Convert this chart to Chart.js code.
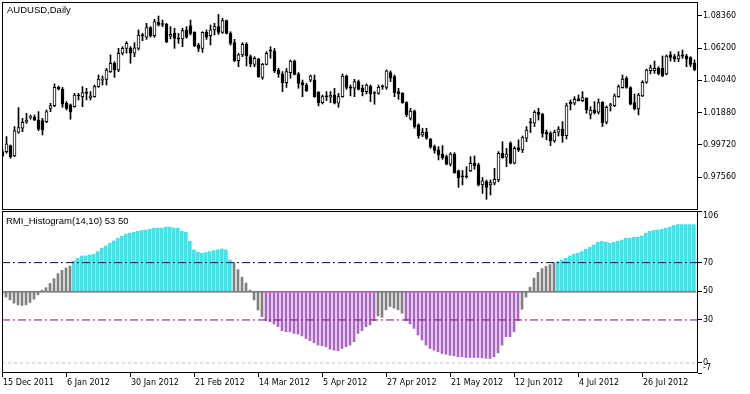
<!DOCTYPE html>
<html><head><meta charset="utf-8">
<script src="https://cdn.jsdelivr.net/npm/chart.js@4"></script>
<style>
html,body{margin:0;padding:0;background:#fff;}
#wrap{position:relative;width:750px;height:394px;overflow:hidden;background:#fff;}
canvas{position:absolute;left:0;}
#c1{top:0;} #c2{top:210px;}
.lbl{position:absolute;font-family:'Liberation Sans',Arial,sans-serif;font-size:9.5px;color:#000;white-space:nowrap;line-height:1;}
</style></head>
<body><div id="wrap">
<canvas id="c1" width="750" height="210"></canvas>
<canvas id="c2" width="750" height="184"></canvas>
<div class="lbl" style="left:7px;top:5px">AUDUSD,Daily</div>
<div class="lbl" style="left:6px;top:216px">RMI_Histogram(14,10) 53 50</div>
</div>
<script>
// ---- data ----
const opens = [
0.9928,0.9928,0.9968,0.9899,1.0057,1.0084,1.0124,1.0157,1.0159,1.0139,
1.0135,1.0128,1.0217,1.0235,1.0357,1.0346,1.0251,1.0240,1.0228,1.0302,
1.0295,1.0326,1.0288,1.0295,1.0362,1.0406,1.0411,1.0462,1.0518,1.0473,
1.0585,1.0618,1.0618,1.0585,1.0618,1.0703,1.0692,1.0756,1.0703,1.0792,
1.0778,1.0778,1.0700,1.0718,1.0681,1.0681,1.0741,1.0769,1.0725,1.0640,
1.0618,1.0725,1.0703,1.0741,1.0763,1.0725,1.0803,1.0718,1.0656,1.0536,
1.0574,1.0645,1.0562,1.0511,1.0545,1.0424,1.0511,1.0600,1.0600,1.0473,
1.0447,1.0389,1.0456,1.0533,1.0447,1.0389,1.0373,1.0406,1.0406,1.0324,
1.0255,1.0295,1.0291,1.0306,1.0251,1.0295,1.0433,1.0357,1.0351,1.0395,
1.0351,1.0329,1.0366,1.0317,1.0317,1.0362,1.0357,1.0456,1.0429,1.0329,
1.0317,1.0255,1.0150,1.0199,1.0106,1.0039,1.0057,1.0010,0.9961,0.9939,
0.9912,0.9894,0.9843,0.9912,0.9799,0.9761,0.9761,0.9799,0.9850,0.9839,
0.9705,0.9727,0.9705,0.9716,0.9738,0.9917,0.9890,0.9983,0.9850,0.9955,
0.9939,1.0017,1.0121,1.0117,1.0191,1.0177,1.0057,1.0050,0.9999,1.0057,
1.0079,1.0035,1.0257,1.0251,1.0280,1.0268,1.0284,1.0177,1.0206,1.0191,
1.0257,1.0124,1.0235,1.0235,1.0295,1.0355,1.0418,1.0355,1.0255,1.0213,
1.0300,1.0391,1.0469,1.0469,1.0484,1.0484,1.0447,1.0574,1.0562,1.0547,
1.0567,1.0567,1.0556,1.0518];
const highs = [
0.9939,1.0028,0.9972,1.0095,1.0222,1.0150,1.0184,1.0173,1.0173,1.0195,
1.0150,1.0206,1.0251,1.0380,1.0366,1.0357,1.0262,1.0246,1.0317,1.0317,
1.0362,1.0351,1.0329,1.0373,1.0440,1.0433,1.0484,1.0574,1.0529,1.0618,
1.0629,1.0663,1.0629,1.0656,1.0741,1.0718,1.0785,1.0763,1.0812,1.0834,
1.0807,1.0785,1.0763,1.0752,1.0718,1.0752,1.0763,1.0807,1.0729,1.0651,
1.0729,1.0741,1.0774,1.0785,1.0845,1.0818,1.0807,1.0729,1.0678,1.0585,
1.0656,1.0656,1.0574,1.0562,1.0551,1.0518,1.0596,1.0629,1.0618,1.0484,
1.0462,1.0484,1.0540,1.0540,1.0456,1.0406,1.0384,1.0440,1.0440,1.0329,
1.0306,1.0329,1.0329,1.0351,1.0317,1.0447,1.0440,1.0373,1.0411,1.0406,
1.0373,1.0380,1.0373,1.0329,1.0373,1.0373,1.0473,1.0467,1.0440,1.0351,
1.0322,1.0262,1.0217,1.0206,1.0113,1.0084,1.0084,1.0017,0.9972,0.9961,
0.9968,0.9905,0.9921,0.9921,0.9805,0.9801,0.9827,0.9894,0.9899,0.9850,
0.9754,0.9738,0.9738,0.9816,0.9928,0.9994,0.9950,0.9994,0.9961,1.0006,
1.0032,1.0095,1.0150,1.0202,1.0217,1.0184,1.0072,1.0061,1.0072,1.0095,
1.0128,1.0251,1.0273,1.0295,1.0306,1.0329,1.0288,1.0228,1.0262,1.0280,
1.0262,1.0233,1.0251,1.0313,1.0373,1.0440,1.0429,1.0362,1.0313,1.0317,
1.0402,1.0480,1.0507,1.0533,1.0495,1.0567,1.0574,1.0596,1.0578,1.0596,
1.0607,1.0578,1.0562,1.0540];
const lows = [
0.9894,0.9917,0.9883,0.9894,1.0050,1.0061,1.0117,1.0144,1.0135,1.0068,
1.0039,1.0121,1.0195,1.0228,1.0340,1.0224,1.0206,1.0144,1.0224,1.0273,
1.0228,1.0273,1.0273,1.0291,1.0357,1.0373,1.0373,1.0456,1.0424,1.0462,
1.0574,1.0585,1.0518,1.0562,1.0607,1.0669,1.0678,1.0692,1.0692,1.0767,
1.0763,1.0656,1.0681,1.0618,1.0651,1.0629,1.0685,1.0707,1.0629,1.0596,
1.0591,1.0678,1.0640,1.0707,1.0711,1.0718,1.0714,1.0640,1.0529,1.0495,
1.0562,1.0500,1.0495,1.0495,1.0424,1.0411,1.0507,1.0551,1.0456,1.0424,
1.0329,1.0357,1.0418,1.0440,1.0351,1.0295,1.0329,1.0395,1.0291,1.0233,
1.0246,1.0268,1.0255,1.0246,1.0224,1.0291,1.0344,1.0300,1.0295,1.0340,
1.0300,1.0313,1.0262,1.0244,1.0311,1.0344,1.0344,1.0395,1.0295,1.0277,
1.0251,1.0162,1.0139,1.0084,1.0017,1.0028,1.0010,0.9950,0.9917,0.9872,
0.9876,0.9839,0.9832,0.9783,0.9689,0.9705,0.9750,0.9794,0.9810,0.9698,
0.9649,0.9609,0.9638,0.9705,0.9727,0.9883,0.9827,0.9845,0.9845,0.9928,
0.9921,0.9994,1.0055,1.0095,1.0139,1.0024,1.0006,0.9968,0.9990,1.0032,
0.9990,1.0012,1.0206,1.0240,1.0266,1.0262,1.0184,1.0146,1.0179,1.0179,
1.0095,1.0113,1.0199,1.0228,1.0291,1.0351,1.0351,1.0240,1.0206,1.0173,
1.0295,1.0384,1.0447,1.0451,1.0440,1.0429,1.0440,1.0533,1.0529,1.0529,
1.0551,1.0495,1.0495,1.0469];
const closes = [
0.9899,0.9979,0.9894,1.0066,1.0088,1.0124,1.0139,1.0158,1.0139,1.0077,
1.0072,1.0195,1.0235,1.0357,1.0346,1.0244,1.0217,1.0195,1.0306,1.0300,
1.0322,1.0317,1.0300,1.0362,1.0413,1.0413,1.0473,1.0518,1.0473,1.0585,
1.0618,1.0651,1.0585,1.0622,1.0707,1.0702,1.0756,1.0703,1.0796,1.0774,
1.0777,1.0663,1.0711,1.0685,1.0680,1.0736,1.0692,1.0718,1.0636,1.0618,
1.0725,1.0692,1.0741,1.0763,1.0725,1.0803,1.0718,1.0651,1.0536,1.0574,
1.0645,1.0567,1.0513,1.0551,1.0429,1.0511,1.0585,1.0599,1.0467,1.0447,
1.0389,1.0462,1.0533,1.0444,1.0384,1.0373,1.0335,1.0433,1.0295,1.0255,
1.0295,1.0294,1.0306,1.0251,1.0295,1.0433,1.0357,1.0351,1.0395,1.0344,
1.0329,1.0373,1.0313,1.0316,1.0357,1.0361,1.0467,1.0418,1.0322,1.0313,
1.0255,1.0173,1.0199,1.0095,1.0032,1.0057,1.0017,0.9957,0.9935,0.9905,
0.9888,0.9843,0.9912,0.9787,0.9754,0.9760,0.9760,0.9850,0.9834,0.9705,
0.9732,0.9689,0.9721,0.9743,0.9917,0.9888,0.9912,0.9850,0.9950,0.9939,
1.0021,1.0072,1.0120,1.0191,1.0177,1.0050,1.0044,0.9999,1.0057,1.0079,
1.0035,1.0235,1.0246,1.0277,1.0268,1.0288,1.0206,1.0206,1.0188,1.0255,
1.0121,1.0224,1.0236,1.0300,1.0362,1.0413,1.0357,1.0244,1.0213,1.0306,
1.0391,1.0473,1.0489,1.0484,1.0447,1.0433,1.0567,1.0558,1.0545,1.0569,
1.0566,1.0545,1.0511,1.0473];
const rmi = [
47.5,45.9,44.0,41.7,40.5,40.1,40.5,42.2,44.5,47.5,
50.8,52.5,55.5,58.8,62.3,64.6,66.3,67.6,71.4,73.3,
74.9,74.9,75.6,76.1,77.9,80.3,81.9,83.8,85.4,87.3,
88.5,90.1,90.8,91.5,92.0,92.7,93.1,93.6,94.3,94.3,
94.3,95.0,95.0,94.3,94.3,92.0,91.5,85.0,79.1,77.5,
76.8,77.2,77.9,78.6,79.1,79.8,79.1,72.1,69.8,65.1,
59.9,55.7,50.8,44.0,37.0,32.3,29.5,28.8,27.2,25.3,
22.5,21.8,21.8,20.6,20.2,18.8,17.1,15.5,14.1,12.4,
12.0,11.3,9.6,8.9,8.5,10.1,11.3,12.4,14.8,20.6,
22.5,25.3,26.5,29.6,32.8,31.9,37.0,39.4,38.2,37.0,
34.7,29.5,27.2,24.1,19.5,16.0,12.4,10.1,8.9,7.8,
6.6,6.1,5.4,5.0,4.3,4.3,3.8,3.8,3.8,3.8,
3.6,3.3,3.1,4.3,7.1,12.4,18.3,18.3,21.8,29.6,
37.5,45.9,52.9,59.2,63.2,65.8,67.4,68.6,69.8,70.9,
72.1,73.3,74.9,76.1,76.8,77.9,79.6,81.0,82.6,84.3,
85.0,84.3,83.8,84.3,85.0,86.1,87.3,87.3,87.8,88.0,
88.9,90.8,92.0,92.7,93.1,93.6,94.3,95.0,96.0,96.7,
96.7,96.7,96.7,96.7];
const priceTicks = [0.9756, 0.9972, 1.0188, 1.0404, 1.0620, 1.0836];
const rmiTicks = [-7, 0, 30, 50, 70, 106];
const dateLabels = ['15 Dec 2011','6 Jan 2012','30 Jan 2012','21 Feb 2012','14 Mar 2012','5 Apr 2012','27 Apr 2012','21 May 2012','12 Jun 2012','4 Jul 2012','26 Jul 2012'];
const dateTickIndex = [0,16,32,48,64,80,96,112,128,144,160];
const upperLevel = 70, lowerLevel = 30, midLevel = 50, zeroLevel = 0;

// ---- styling ----
const CYAN = '#3ee6ea', CYAN_GAP = '#a6eff2', MAGENTA = '#aa66c2', GRAY = '#808080';
Chart.defaults.font.family = 'DejaVu Sans';
Chart.defaults.font.size = 8;
Chart.defaults.color = '#000';

const idx = opens.map((_, i) => i);
const frame = {
  id: 'frame',
  afterDatasetsDraw(chart) {
    const { ctx, chartArea: a } = chart;
    ctx.save();
    ctx.strokeStyle = '#000'; ctx.lineWidth = 1;
    ctx.strokeRect(Math.round(a.left) + 0.5, Math.round(a.top) + 0.5,
                   Math.round(a.right - a.left) - 1, Math.round(a.bottom - a.top) - 1);
    ctx.restore();
  }
};
const axisTicks = { drawOnChartArea: false, drawTicks: true, tickLength: 4, color: '#000', lineWidth: 1, offset: false };
const noPadV = s => { s.width = 52; s.paddingTop = 0; s.paddingBottom = 0; };
const noPadH = h => s => { s.height = h; s.paddingLeft = 0; s.paddingRight = 0; };

// ---- price panel ----
new Chart(document.getElementById('c1'), {
  type: 'bar',
  data: { datasets: [
    { label: 'body', data: idx.map(i => ({ x: i, y: [opens[i], closes[i]] })),
      backgroundColor: idx.map(i => closes[i] >= opens[i] ? '#ffffff' : '#000000'),
      borderColor: '#000', borderWidth: 1, borderSkipped: false,
      barThickness: 3, minBarLength: 1, grouped: false },
    { label: 'wick', data: idx.map(i => ({ x: i, y: [lows[i], highs[i]] })),
      backgroundColor: '#000', borderWidth: 0, barThickness: 1, grouped: false }
  ]},
  options: {
    responsive: false, animation: false, devicePixelRatio: 1,
    layout: { padding: { left: 2, top: 2, right: 0, bottom: 0 } },
    plugins: { legend: { display: false }, tooltip: { enabled: false } },
    scales: {
      x: { type: 'linear', display: false, offset: false, min: -0.125, max: 173.875, bounds: 'data',
           grid: { offset: false } },
      y: { type: 'linear', position: 'right', min: 0.95375, max: 1.09276, bounds: 'data',
           afterFit: noPadV,
           afterBuildTicks: s => { s.ticks = priceTicks.map(v => ({ value: v })); },
           grid: axisTicks, border: { display: false },
           ticks: { callback: v => Number(v).toFixed(5), padding: 1, autoSkip: false } }
    }
  },
  plugins: [frame]
});

// ---- RMI panel ----
const colorOf = v => v > upperLevel ? 'cyan' : (v < lowerLevel ? 'magenta' : 'gray');
const XMIN = 0, XMAX = 174;
const levelLine = (lvl, color, dash) => ({
  type: 'line', data: [{ x: XMIN, y: lvl }, { x: XMAX, y: lvl }],
  borderColor: color, borderWidth: 1, borderDash: dash, pointRadius: 0, fill: false
});
const histo = (kind) => idx.map(i => ({ x: i, y: colorOf(rmi[i]) === kind ? [midLevel, rmi[i]] : null }));

new Chart(document.getElementById('c2'), {
  type: 'bar',
  data: { datasets: [
    levelLine(upperLevel, '#000080', [8, 3, 2, 3]),
    levelLine(lowerLevel, '#800080', [8, 3, 2, 3]),
    levelLine(zeroLevel, '#c0c0c0', [3, 3]),
    { label: 'base', data: idx.map(i => ({ x: i, y: [midLevel, midLevel] })),
      backgroundColor: idx.map(i => colorOf(rmi[i]) === 'magenta' ? MAGENTA : GRAY),
      barThickness: 4, minBarLength: 1, grouped: false },
    { label: 'up', data: histo('cyan'), backgroundColor: CYAN, borderColor: CYAN_GAP,
      borderWidth: { left: 0, right: 1, top: 0, bottom: 0 }, borderSkipped: false,
      barThickness: 4, grouped: false },
    { label: 'neutral', data: histo('gray'), backgroundColor: GRAY, barThickness: 2, grouped: false },
    { label: 'down', data: histo('magenta'), backgroundColor: MAGENTA, barThickness: 2, grouped: false }
  ]},
  options: {
    responsive: false, animation: false, devicePixelRatio: 1,
    layout: { padding: { left: 2, top: 1, right: 0, bottom: 0 } },
    plugins: { legend: { display: false }, tooltip: { enabled: false } },
    scales: {
      x: { type: 'linear', position: 'bottom', offset: false, min: XMIN, max: XMAX, bounds: 'data',
           afterFit: noPadH(21),
           afterBuildTicks: s => { s.ticks = dateTickIndex.map(v => ({ value: v })); },
           grid: axisTicks, border: { display: false },
           ticks: { callback: (v, i) => dateLabels[i], align: 'start', labelOffset: 1,
                    padding: 1, maxRotation: 0, autoSkip: false } },
      y: { type: 'linear', position: 'right', min: rmiTicks[0], max: rmiTicks[rmiTicks.length - 1], bounds: 'data',
           afterFit: noPadV,
           afterBuildTicks: s => { s.ticks = rmiTicks.map(v => ({ value: v })); },
           grid: axisTicks, border: { display: false },
           ticks: { padding: 1, autoSkip: false,
                    callback: (v, i, t) => i === t.length - 1 ? ['', String(v)] : (i === 0 ? [String(v), ''] : String(v)) } }
    }
  },
  plugins: [frame]
});
</script>
</body></html>
